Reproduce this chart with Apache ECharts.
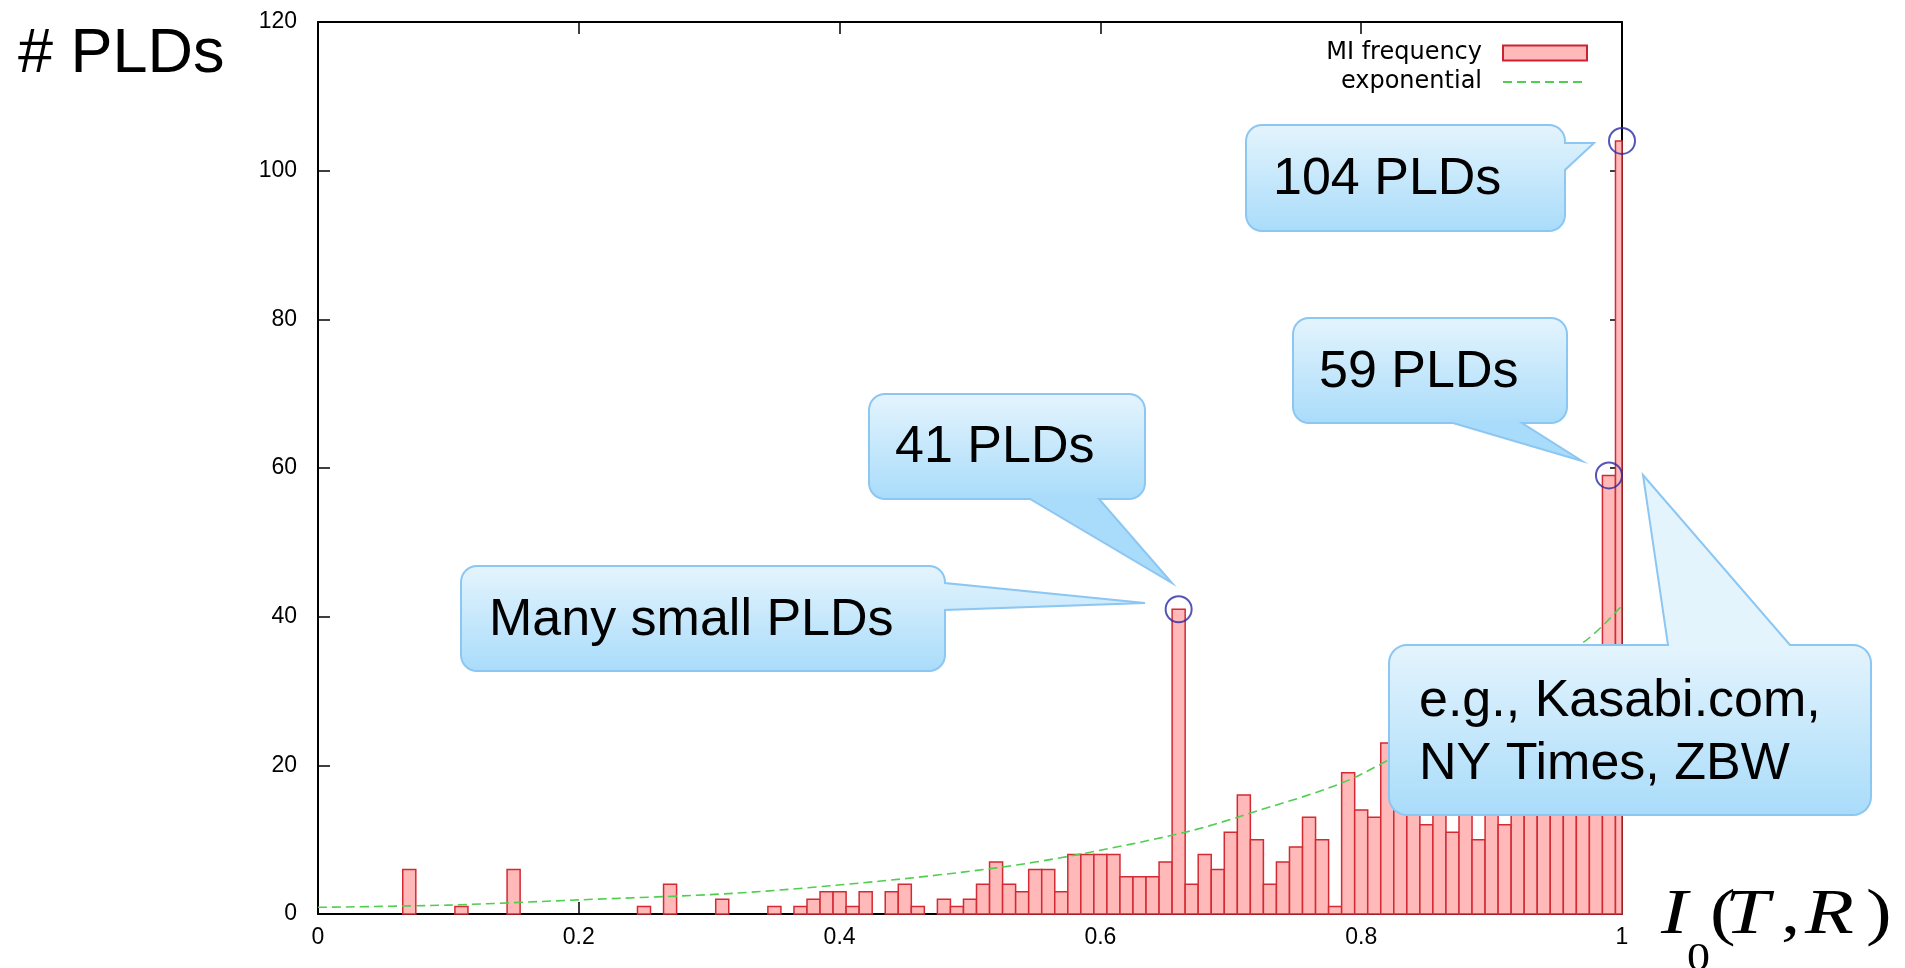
<!DOCTYPE html>
<html><head><meta charset="utf-8">
<script src="https://cdn.jsdelivr.net/npm/echarts@6/dist/echarts.min.js"></script>
<style>html,body{margin:0;padding:0;background:#fff}#c{width:1905px;height:968px}</style>
</head><body><div id="c"></div>
<script>
// ---- data ----
const binCenters = [
 0.00,0.01,0.02,0.03,0.04,0.05,0.06,0.07,0.08,0.09,
 0.10,0.11,0.12,0.13,0.14,0.15,0.16,0.17,0.18,0.19,
 0.20,0.21,0.22,0.23,0.24,0.25,0.26,0.27,0.28,0.29,
 0.30,0.31,0.32,0.33,0.34,0.35,0.36,0.37,0.38,0.39,
 0.40,0.41,0.42,0.43,0.44,0.45,0.46,0.47,0.48,0.49,
 0.50,0.51,0.52,0.53,0.54,0.55,0.56,0.57,0.58,0.59,
 0.60,0.61,0.62,0.63,0.64,0.65,0.66,0.67,0.68,0.69,
 0.70,0.71,0.72,0.73,0.74,0.75,0.76,0.77,0.78,0.79,
 0.80,0.81,0.82,0.83,0.84,0.85,0.86,0.87,0.88,0.89,
 0.90,0.91,0.92,0.93,0.94,0.95,0.96,0.97,0.98,0.99,
 1.00];
const counts = [
 0,0,0,0,0,0,0,6,0,0,
 0,1,0,0,0,6,0,0,0,0,
 0,0,0,0,0,1,0,4,0,0,
 0,2,0,0,0,1,0,1,2,3,
 3,1,3,0,3,4,1,0,2,1,
 2,4,7,4,3,6,6,3,8,8,
 8,8,5,5,5,7,41,4,8,6,
 11,16,10,4,7,9,13,10,1,19,
 14,13,23,17,20,12,18,11,16,10,
 21,12,19,21,17,24,22,27,30,59,
 104];
const expX = [0, 0.1, 0.2, 0.32, 0.43, 0.52, 0.58, 0.665, 0.71, 0.8, 0.97, 1.0];
const expY = [0.9, 1.2, 1.9, 2.8, 4.4, 6.2, 7.9, 11.0, 13.3, 18.8, 36.5, 41.5];
const markedX = [0.66, 0.99, 1.00];
const markedY = [41, 59, 104];
const xTickInterval = 0.2;
const yTickInterval = 20;
const binWidth = 0.01;

const FONT = '"Liberation Sans", Arial, sans-serif';
const chart = echarts.init(document.getElementById('c'));

function axisCommon() {
  return {
    axisLine: { show: true, onZero: false, lineStyle: { color: '#000', width: 2 } },
    axisTick: { show: true, inside: true, length: 12, lineStyle: { color: '#000', width: 1.5 } },
    splitLine: { show: false }
  };
}

// callout bubbles (annotation layout)
const callouts = [
  { x: 1246, y: 125, w: 319, h: 106, r: 16, side: 'right', a: 143, b: 170, tip: [1594, 143], lines: ['104 PLDs'], tx: 1273, ty: [180] },
  { x: 1293, y: 318, w: 274, h: 105, r: 16, side: 'bottom', a: 1453, b: 1522, tip: [1582, 461], lines: ['59 PLDs'], tx: 1319, ty: [373] },
  { x: 869, y: 394, w: 276, h: 105, r: 16, side: 'bottom', a: 1030, b: 1099, tip: [1172, 583], lines: ['41 PLDs'], tx: 895, ty: [448] },
  { x: 461, y: 566, w: 484, h: 105, r: 16, side: 'right', a: 583, b: 610, tip: [1145, 603], lines: ['Many small PLDs'], tx: 489, ty: [621] },
  { x: 1389, y: 645, w: 482, h: 170, r: 18, side: 'top', a: 1668, b: 1790, tip: [1643, 475], lines: ['e.g., Kasabi.com,', 'NY Times, ZBW'], tx: 1419, ty: [702, 765] }
];

function arc(pts, cx, cy, r, a0, a1) {
  const n = 8;
  for (let i = 0; i <= n; i++) {
    const t = (a0 + (a1 - a0) * i / n) * Math.PI / 180;
    pts.push([cx + r * Math.cos(t), cy + r * Math.sin(t)]);
  }
}
function bubblePoints(c) {
  const { x, y, w, h, r } = c;
  const p = [];
  p.push([x + r, y]);
  if (c.side === 'top') { p.push([c.a, y]); p.push(c.tip); p.push([c.b, y]); }
  arc(p, x + w - r, y + r, r, -90, 0);
  if (c.side === 'right') { p.push([x + w, c.a]); p.push(c.tip); p.push([x + w, c.b]); }
  arc(p, x + w - r, y + h - r, r, 0, 90);
  if (c.side === 'bottom') { p.push([c.b, y + h]); p.push(c.tip); p.push([c.a, y + h]); }
  arc(p, x + r, y + h - r, r, 90, 180);
  arc(p, x + r, y + r, r, 180, 270);
  return p;
}

const graphics = [];
callouts.forEach(c => {
  graphics.push({
    type: 'polygon', z: 100,
    shape: { points: bubblePoints(c) },
    style: {
      fill: new echarts.graphic.LinearGradient(0, c.y, 0, c.y + c.h, [
        { offset: 0, color: '#e4f4fd' }, { offset: 1, color: '#a9dcfa' }], true),
      stroke: '#8cc6f2', lineWidth: 2
    }
  });
  c.lines.forEach((t, i) => {
    graphics.push({
      type: 'text', z: 101, x: c.tx, y: c.ty[i],
      style: { text: t, font: '52px ' + FONT, fill: '#000', textAlign: 'left', textVerticalAlign: 'middle', verticalAlign: 'middle' }
    });
  });
});
// y axis title
graphics.push({ type: 'text', z: 101, x: 18, y: 55,
  style: { text: '# PLDs', font: '63px ' + FONT, fill: '#000', textAlign: 'left', textVerticalAlign: 'middle', verticalAlign: 'middle' } });
// x axis title  I_0(T,R)
const SERIF = '"Liberation Serif", "Times New Roman", serif';
const xt = [
  { t: 'I', x: 1661, y: 916, f: 'italic 64px ' + SERIF, s: 1.25 },
  { t: '0', x: 1687, y: 959, f: '40px ' + SERIF, s: 1.15 },
  { t: '(', x: 1710, y: 916, f: '64px ' + SERIF, s: 1.2 },
  { t: 'T', x: 1725, y: 916, f: 'italic 64px ' + SERIF, s: 1.25 },
  { t: ',', x: 1781, y: 916, f: '64px ' + SERIF, s: 1.2 },
  { t: 'R', x: 1805, y: 916, f: 'italic 64px ' + SERIF, s: 1.25 },
  { t: ')', x: 1866, y: 916, f: '64px ' + SERIF, s: 1.2 }
];
xt.forEach(o => graphics.push({ type: 'text', z: 101, x: o.x, y: o.y, scaleX: o.s,
  style: { text: o.t, font: o.f, fill: '#000', textAlign: 'left', textVerticalAlign: 'middle', verticalAlign: 'middle' } }));

chart.setOption({
  animation: false,
  backgroundColor: '#fff',
  grid: { left: 318, right: 283, top: 22, bottom: 54, containLabel: false },
  legend: {
    orient: 'vertical', right: 317, top: 41, align: 'right', padding: 0,
    itemWidth: 84, itemHeight: 15, itemGap: 5, selectedMode: false,
    textStyle: { fontSize: 24, fontFamily: '"DejaVu Sans", sans-serif', color: '#000', padding: [0, 16, 0, 0] },
    data: [
      { name: 'MI frequency', icon: 'rect', itemStyle: { color: '#ffb9b9', borderColor: '#cc2233', borderWidth: 2 } },
      { name: 'exponential', itemStyle: { color: 'rgba(0,0,0,0)', borderColor: 'rgba(0,0,0,0)', borderWidth: 0 } }
    ]
  },
  xAxis: [
    Object.assign(axisCommon(), { type: 'value', position: 'bottom', min: 0, max: 1, interval: xTickInterval,
      axisLabel: { margin: 12, fontSize: 23, fontFamily: FONT, color: '#000' } }),
    Object.assign(axisCommon(), { type: 'value', position: 'top', min: 0, max: 1, interval: xTickInterval,
      axisLabel: { show: false } })
  ],
  yAxis: [
    Object.assign(axisCommon(), { type: 'value', position: 'left', min: 0, max: 120, interval: yTickInterval,
      axisLabel: { margin: 21, fontSize: 23, fontFamily: FONT, color: '#000' } }),
    Object.assign(axisCommon(), { type: 'value', position: 'right', min: 0, max: 120, interval: yTickInterval,
      axisLabel: { show: false } })
  ],
  series: [
    {
      name: 'MI frequency', type: 'custom', xAxisIndex: 0, yAxisIndex: 0, z: 2,
      itemStyle: { color: '#ffb9b9', borderColor: '#cc2233' },
      encode: { x: 0, y: 1 },
      data: binCenters.map((c, i) => [c, counts[i]]),
      renderItem: function (params, api) {
        const c = api.value(0), v = api.value(1);
        if (!v) return null;
        const tl = api.coord([c - binWidth / 2, v]);
        const br = api.coord([c + binWidth / 2, 0]);
        const cs = params.coordSys;
        const shape = echarts.graphic.clipRectByRect(
          { x: tl[0], y: tl[1], width: br[0] - tl[0], height: br[1] - tl[1] },
          { x: cs.x, y: cs.y, width: cs.width, height: cs.height });
        if (!shape) return null;
        return { type: 'rect', shape: shape, style: { fill: '#ffb9b9', stroke: '#d42a33', lineWidth: 1.5 } };
      }
    },
    {
      name: 'exponential', type: 'line', xAxisIndex: 0, yAxisIndex: 0, z: 3,
      data: expX.map((x, i) => [x, expY[i]]),
      symbol: 'none', showSymbol: false, smooth: 0.3,
      itemStyle: { color: '#4fce4f' },
      lineStyle: { color: '#4fce4f', width: 1.6, type: [9, 5] }
    },
    {
      name: 'marked', type: 'scatter', xAxisIndex: 0, yAxisIndex: 0, z: 4, clip: false, silent: true,
      data: markedX.map((x, i) => [x, markedY[i]]),
      symbol: 'circle', symbolSize: 26,
      itemStyle: { color: 'rgba(0,0,0,0)', borderColor: '#2b2ba6', borderWidth: 2 }
    }
  ],
  graphic: { elements: graphics }
});
</script>
</body></html>
